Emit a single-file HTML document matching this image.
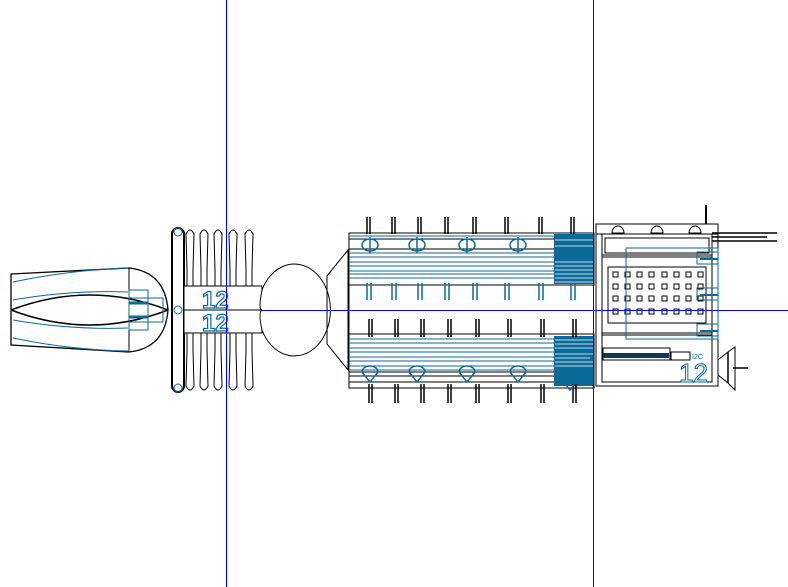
<!DOCTYPE html>
<html><head><meta charset="utf-8"><style>html,body{margin:0;padding:0;background:#fff}svg{display:block}</style></head>
<body>
<svg width="788" height="587" viewBox="0 0 788 587" xmlns="http://www.w3.org/2000/svg" font-family="Liberation Sans, sans-serif">
<g fill="none" stroke="#000" stroke-width="1">
<path d="M11,274 L129,268 Q165,272 168,310 Q165,348 129,352 L11,345 Z" stroke-width="1.3"/>
<line x1="129" y1="268" x2="129" y2="352"/>
<path d="M11,310 Q90,280 168,310" stroke-width="1.5"/>
<path d="M11,310 Q90,340 168,310" stroke-width="1.5"/>
<g stroke="#0a6a9a">
<path d="M13,282 Q70,270 128,268"/>
<path d="M13,300 Q70,290 128,292"/>
<path d="M13,320 Q70,330 128,328"/>
<path d="M13,338 Q70,350 128,351"/>
<rect x="129" y="290" width="19" height="40"/>
<rect x="129" y="298" width="34" height="24"/>
<line x1="129" y1="303" x2="148" y2="303" stroke-width="3"/>
<line x1="129" y1="317" x2="148" y2="317" stroke-width="3"/>
</g>
<rect x="172" y="228" width="12" height="164" rx="6" stroke-width="2"/>
<circle cx="178" cy="232" r="4" stroke="#0a6a9a"/><circle cx="178" cy="388" r="4" stroke="#0a6a9a"/>
<circle cx="178" cy="310" r="4" stroke="#0a6a9a"/>
<path d="M186,234 Q190,226 194,234 L193,270 L193,350 L194,386 Q190,394 186,386 L187,350 L187,270 Z"/>
<path d="M200,234 Q204,226 208,234 L207,270 L207,350 L208,386 Q204,394 200,386 L201,350 L201,270 Z"/>
<path d="M214,234 Q218,226 222,234 L221,270 L221,350 L222,386 Q218,394 214,386 L215,350 L215,270 Z"/>
<path d="M229,234 Q233,226 237,234 L236,270 L236,350 L237,386 Q233,394 229,386 L230,350 L230,270 Z"/>
<path d="M245,234 Q249,226 253,234 L252,270 L252,350 L253,386 Q249,394 245,386 L246,350 L246,270 Z"/>
<rect x="184" y="286" width="78" height="47" fill="#fff"/>
<line x1="184" y1="310" x2="262" y2="310"/>
<path d="M262,290 Q258,310 262,310 Q258,312 262,330 A36,46 0 1 0 262,290 Z" fill="#fff"/>
<path d="M327,276 L348,250 L348,370 L327,344 Z"/>
<line x1="327" y1="276" x2="327" y2="344"/>
<rect x="349" y="233" width="245" height="52"/>
<rect x="349" y="334" width="245" height="54"/>
<line x1="349" y1="285" x2="349" y2="334"/>
<line x1="349" y1="239" x2="594" y2="239"/><line x1="349" y1="249" x2="594" y2="249"/>
<line x1="349" y1="372" x2="594" y2="372"/><line x1="349" y1="376" x2="594" y2="376"/><line x1="349" y1="382" x2="594" y2="382"/>
</g>
<g stroke="#0a6a9a" fill="none">
<line x1="349" y1="236" x2="594" y2="236"/>
<path d="M349,253H554M349,257H554M349,262H554M349,266H554M349,271H554M349,274H554M349,278H554"/>
<path d="M349,339H554M349,343H554M349,348H554M349,352H554M349,357H554M349,361H554M349,366H554M349,370H554"/>
</g>
<rect x="554" y="234" width="40" height="50" fill="#0a6a9a"/>
<rect x="554" y="336" width="40" height="50" fill="#0a6a9a"/>
<g stroke="#fff" stroke-width="0.8">
<path d="M555,240H594M555,246H594M555,262H594M555,266H594M555,270H594M555,274H594M555,278H594M555,282H594"/>
<path d="M555,340H594M555,344H594M555,348H594M555,354H594M555,358H590M555,362H594M555,366H594"/>
</g>
<g stroke="#0a6a9a" stroke-width="1.5" fill="none">
<path d="M367,217V234M370,217V234M392,217V234M395,217V234M418,217V234M421,217V234M445,217V234M448,217V234M473,217V234M476,217V234M505,217V234M508,217V234M539,217V234M542,217V234M571,217V234M574,217V234" stroke="#000"/>
<path d="M367,283V300M371,283V300M392,283V300M396,283V300M418,283V300M422,283V300M445,283V300M449,283V300M473,283V300M477,283V300M505,283V300M509,283V300M539,283V300M543,283V300M571,283V300M575,283V300"/>
<path d="M369,319V337M372,319V337M395,319V337M398,319V337M421,319V337M424,319V337M448,319V337M451,319V337M476,319V337M479,319V337M508,319V337M511,319V337M541,319V337M544,319V337M573,319V337M576,319V337" stroke="#000"/>
<path d="M369,384V403M372,384V403M395,384V403M398,384V403M421,384V403M424,384V403M448,384V403M451,384V403M476,384V403M479,384V403M508,384V403M511,384V403M541,384V403M544,384V403M573,384V403M576,384V403" stroke="#000"/>
<ellipse cx="370" cy="245" rx="8" ry="6"/><ellipse cx="417" cy="245" rx="8" ry="6"/><ellipse cx="467" cy="245" rx="8" ry="6"/><ellipse cx="518" cy="245" rx="8" ry="6"/>
<path d="M370,237V253M417,237V253M467,237V253M518,237V253"/>
<path d="M362,372 A8,6 0 0 1 378,372 L370,382Z M409,372 A8,6 0 0 1 425,372 L417,382Z M459,372 A8,6 0 0 1 475,372 L467,382Z M510,372 A8,6 0 0 1 526,372 L518,382Z M562,380 A8,6 0 0 1 578,380 L570,390Z"/>
</g>
<g fill="none" stroke="#000">
<rect x="596" y="224" width="122" height="162"/>
<rect x="602" y="234" width="110" height="148"/>
<line x1="596" y1="234" x2="718" y2="234"/><line x1="602" y1="255" x2="712" y2="255"/>
<rect x="605" y="238" width="104" height="15"/>
<rect x="602" y="257" width="110" height="76"/>
<rect x="608" y="267" width="98" height="56"/>
<line x1="602" y1="335" x2="712" y2="335"/>
<rect x="603" y="348" width="67" height="12"/>
<rect x="671" y="352" width="19" height="8"/>
<path d="M612,233 A6,7 0 0 1 624,233Z M651,233 A6,7 0 0 1 663,233Z M689,233 A6,7 0 0 1 701,233Z"/>
<path d="M706,205V224" stroke-width="2"/>
<path d="M712,233H777M712,237H767M712,241H777" stroke-width="1.5"/>
<path d="M718,360 L728,352 L735,347 L735,390 L728,383 L718,375Z"/>
<path d="M728,352V383M733,368H748" stroke-width="1.5"/>
</g>
<g fill="none" stroke="#000">
<path d="M613,272h5v5h-5zM625,272h5v5h-5zM637,272h5v5h-5zM649,272h5v5h-5zM662,272h5v5h-5zM674,272h5v5h-5zM686,272h5v5h-5zM698,272h5v5h-5z"/>
<path d="M613,284h5v5h-5zM625,284h5v5h-5zM637,284h5v5h-5zM649,284h5v5h-5zM662,284h5v5h-5zM674,284h5v5h-5zM686,284h5v5h-5zM698,284h5v5h-5z"/>
<path d="M613,296h5v5h-5zM625,296h5v5h-5zM637,296h5v5h-5zM649,296h5v5h-5zM662,296h5v5h-5zM674,296h5v5h-5zM686,296h5v5h-5zM698,296h5v5h-5z"/>
<path d="M613,309h5v5h-5zM625,309h5v5h-5zM637,309h5v5h-5zM649,309h5v5h-5zM662,309h5v5h-5zM674,309h5v5h-5zM686,309h5v5h-5zM698,309h5v5h-5z"/>
</g>
<g fill="none" stroke="#0a6a9a">
<rect x="626" y="248" width="92" height="91"/>
<rect x="697" y="252" width="21" height="12"/><rect x="697" y="288" width="21" height="12"/><rect x="697" y="324" width="21" height="12"/>
<path d="M700,259H718M700,295H718M700,331H718" stroke-width="2"/>
</g>
<rect x="603" y="353" width="66" height="5" fill="#0a3a5a"/>
<text x="692" y="359" font-size="7" fill="#0a6a9a">I2C</text>
<text x="679" y="382" font-size="26" fill="#fff" stroke="#0a6a9a" stroke-width="1">12</text>
<text x="202" y="308" font-size="24" font-weight="bold" fill="#fff" stroke="#0a6a9a" stroke-width="1.2">12</text>
<text x="202" y="331" font-size="24" font-weight="bold" fill="#fff" stroke="#0a6a9a" stroke-width="1.2">12</text>
<g stroke="#0000ee" stroke-width="1">
<line x1="226.5" y1="0" x2="226.5" y2="587"/>
<line x1="593.5" y1="0" x2="593.5" y2="587"/>
<line x1="262" y1="310.5" x2="788" y2="310.5"/>
</g>
</svg>
</body></html>
